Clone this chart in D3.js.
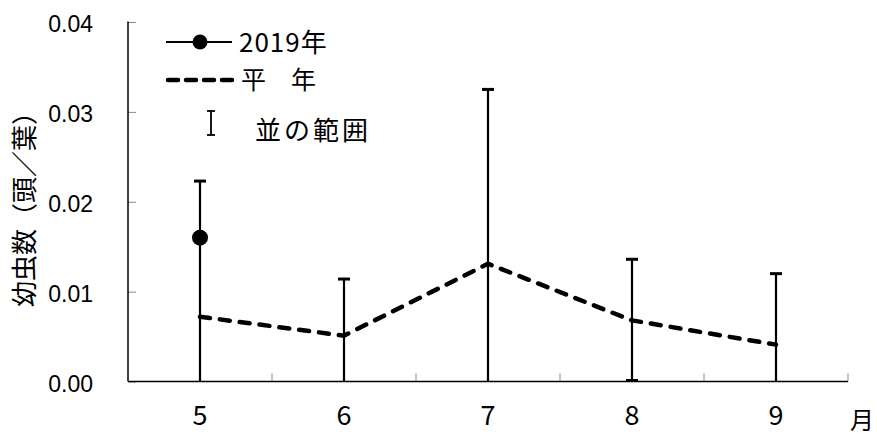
<!DOCTYPE html>
<html>
<head>
<meta charset="utf-8">
<script src="https://cdn.jsdelivr.net/npm/d3@7"></script>
<style>
  html, body { margin: 0; padding: 0; background: #fff; }
  svg { display: block; }
</style>
</head>
<body>
<svg id="chart" width="877" height="437"></svg>
<script>
// Months on the x axis
const months = ["5", "6", "7", "8", "9"];
// Larvae per leaf, 2019 survey (only May observed)
const year2019 = [0.016, null, null, null, null];
// Average-year values
const normal = [0.0072, 0.0051, 0.0131, 0.0068, 0.0041];
// Normal range (upper and lower bounds)
const rangeHigh = [0.0223, 0.0114, 0.0325, 0.0136, 0.0120];
const rangeLow = [-0.0079, -0.0012, -0.0063, 0.0000, -0.0038];
// Y axis tick values
const yTicks = [0, 0.01, 0.02, 0.03, 0.04];

(function draw() {
  const svg = d3.select("#chart");
  const cjk = "'Noto Sans CJK JP', 'Noto Sans', sans-serif";
  const latin = "'Liberation Sans', Arial, sans-serif";

  const plotLeft = 128, plotRight = 848, plotTop = 22, plotBottom = 381.5;

  const x = d3.scaleBand().domain(months).range([plotLeft, plotRight]).padding(0);
  const y = d3.scaleLinear().domain([0, 0.04]).range([plotBottom, plotTop]);
  const cx = m => x(m) + x.bandwidth() / 2;

  // Y axis
  const yAxis = svg.append("g").attr("transform", `translate(${plotLeft},0)`)
    .call(d3.axisRight(y).tickValues(yTicks).tickSize(8).tickFormat(""));
  yAxis.select(".domain").remove();
  yAxis.selectAll(".tick line").attr("stroke", "#888").attr("stroke-width", 1);
  svg.append("line").attr("x1", plotLeft).attr("x2", plotLeft).attr("y1", y(0.04) - 0.5).attr("y2", plotBottom)
    .attr("stroke", "#000").attr("stroke-width", 1.5);

  // Y tick labels
  svg.append("g").selectAll("text").data(yTicks).join("text")
    .attr("x", 93).attr("y", d => y(d) + 10)
    .attr("text-anchor", "end")
    .attr("font-family", latin).attr("font-size", 23)
    .text(d => d3.format(".2f")(d));

  // X axis with boundary ticks between months
  const bounds = months.map(m => x(m)).concat([x(months[months.length - 1]) + x.bandwidth()]);
  svg.append("g").selectAll("line").data(bounds.slice(1)).join("line")
    .attr("x1", d => d).attr("x2", d => d)
    .attr("y1", plotBottom).attr("y2", plotBottom - 8)
    .attr("stroke", "#888").attr("stroke-width", 1);
  svg.append("line").attr("x1", plotLeft).attr("x2", plotRight).attr("y1", plotBottom).attr("y2", plotBottom)
    .attr("stroke", "#000").attr("stroke-width", 1.5);

  // X tick labels
  svg.append("g").selectAll("text").data(months).join("text")
    .attr("x", d => cx(d)).attr("y", 425)
    .attr("text-anchor", "middle")
    .attr("font-family", cjk).attr("font-size", 27)
    .text(d => d);

  // Axis titles
  svg.append("text").attr("x", 862).attr("y", 429)
    .attr("text-anchor", "middle")
    .attr("font-family", cjk).attr("font-size", 24)
    .text("月");
  svg.append("text")
    .attr("transform", "translate(22,203) rotate(-90)")
    .attr("text-anchor", "middle")
    .attr("dominant-baseline", "central")
    .attr("font-family", cjk).attr("font-size", 26)
    .text("幼虫数（頭／葉）");

  // Normal range error bars
  const cap = 6;
  const bars = svg.append("g").attr("stroke", "#000").attr("stroke-width", 2.2);
  months.forEach((m, i) => {
    const lo = Math.max(rangeLow[i], 0);
    bars.append("line").attr("x1", cx(m)).attr("x2", cx(m))
      .attr("y1", y(rangeHigh[i])).attr("y2", y(lo));
    bars.append("line").attr("x1", cx(m) - cap).attr("x2", cx(m) + cap)
      .attr("y1", y(rangeHigh[i])).attr("y2", y(rangeHigh[i])).attr("stroke-width", 3);
    if (rangeLow[i] >= 0) {
      bars.append("line").attr("x1", cx(m) - cap).attr("x2", cx(m) + cap)
        .attr("y1", y(lo) - 1).attr("y2", y(lo) - 1).attr("stroke-width", 3);
    }
  });

  // Average-year dashed line
  const line = d3.line().x((d, i) => cx(months[i])).y(d => y(d));
  svg.append("path").datum(normal)
    .attr("d", line)
    .attr("fill", "none").attr("stroke", "#000")
    .attr("stroke-width", 4.5).attr("stroke-linecap", "round")
    .attr("stroke-dasharray", "10,10");

  // 2019 points and line
  const pts = year2019.map((v, i) => ({ m: months[i], v })).filter(d => d.v !== null);
  svg.append("path").datum(pts)
    .attr("d", d3.line().x(d => cx(d.m)).y(d => y(d.v)))
    .attr("fill", "none").attr("stroke", "#000").attr("stroke-width", 2);
  svg.append("g").selectAll("circle").data(pts).join("circle")
    .attr("cx", d => cx(d.m)).attr("cy", d => y(d.v)).attr("r", 8).attr("fill", "#000");

  // Legend
  const lg = svg.append("g");
  lg.append("line").attr("x1", 166).attr("x2", 232).attr("y1", 42).attr("y2", 42)
    .attr("stroke", "#000").attr("stroke-width", 2);
  lg.append("circle").attr("cx", 200).attr("cy", 42).attr("r", 7.5).attr("fill", "#000");
  lg.append("text").attr("x", 239).attr("y", 52)
    .attr("font-family", cjk).attr("font-size", 26).attr("letter-spacing", 1).text("2019年");

  lg.append("line").attr("x1", 168).attr("x2", 232).attr("y1", 80).attr("y2", 80)
    .attr("stroke", "#000").attr("stroke-width", 4.5).attr("stroke-linecap", "round")
    .attr("stroke-dasharray", "10,8");
  lg.append("text").attr("x", 241).attr("y", 89)
    .attr("font-family", cjk).attr("font-size", 25).text("平　年");

  const li = lg.append("g").attr("stroke", "#000").attr("stroke-width", 1.8);
  li.append("line").attr("x1", 211).attr("x2", 211).attr("y1", 111).attr("y2", 135);
  li.append("line").attr("x1", 207).attr("x2", 215).attr("y1", 111).attr("y2", 111);
  li.append("line").attr("x1", 207).attr("x2", 215).attr("y1", 135).attr("y2", 135);
  lg.append("text").attr("x", 255).attr("y", 140)
    .attr("font-family", cjk).attr("font-size", 26)
    .attr("letter-spacing", 3).text("並の範囲");
})();
</script>
</body>
</html>
